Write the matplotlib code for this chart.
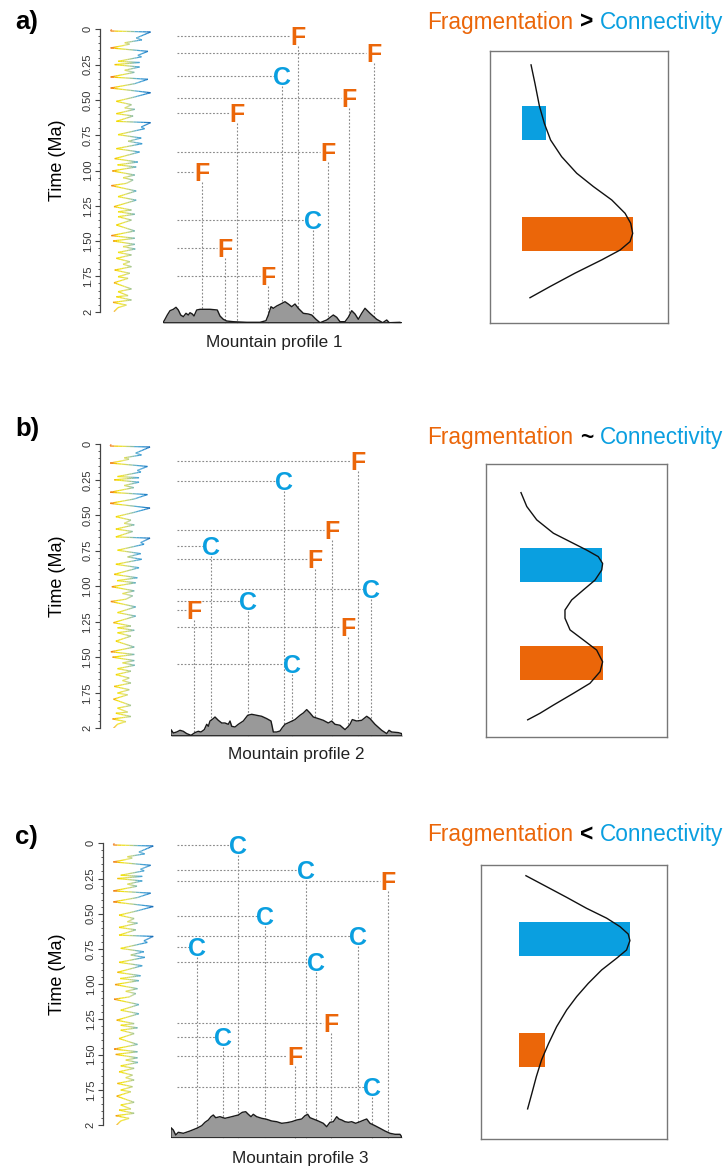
import numpy as np
import matplotlib
matplotlib.use("Agg")
import matplotlib.pyplot as plt
from matplotlib.collections import LineCollection
from matplotlib.colors import LinearSegmentedColormap, Normalize

plt.rcParams['font.family'] = ['Liberation Sans', 'DejaVu Sans']

W, H = 725, 1169
ORANGE = "#EB6609"
BLUE = "#0A9FE0"

# --- climate record (Ma, d18O-like index), same curve in every panel ---
clim_t = [0.0, 0.012, 0.019, 0.062, 0.075, 0.095, 0.105, 0.118, 0.132, 0.156,
          0.184, 0.195, 0.227, 0.235, 0.250, 0.267, 0.290, 0.305, 0.338, 0.354,
          0.385, 0.416, 0.449, 0.480, 0.510, 0.534, 0.557, 0.567, 0.597, 0.614,
          0.652, 0.661, 0.692, 0.704, 0.746, 0.770, 0.793, 0.810, 0.845, 0.869,
          0.916, 0.940, 0.960, 0.975, 1.003, 1.032, 1.051, 1.067, 1.091, 1.107,
          1.145, 1.185, 1.210, 1.256, 1.280, 1.292, 1.310, 1.327, 1.351, 1.386,
          1.428, 1.461, 1.480, 1.499, 1.523, 1.539, 1.556, 1.580, 1.598, 1.622,
          1.646, 1.664, 1.681, 1.705, 1.728, 1.752, 1.764, 1.795, 1.839, 1.858,
          1.886, 1.894, 1.917, 1.934, 1.953, 1.971, 2.0]
clim_v = [3.35, 3.31, 4.98, 4.38, 4.62, 3.90, 4.10, 3.76, 3.31, 4.87,
          4.45, 4.60, 3.62, 4.52, 3.48, 4.52, 3.90, 4.30, 3.31, 4.87,
          4.32, 3.31, 4.98, 4.30, 3.55, 4.18, 3.90, 4.32, 3.55, 4.25,
          3.55, 4.98, 4.59, 4.73, 3.62, 4.59, 4.04, 4.63, 3.55, 4.52,
          3.48, 4.45, 3.60, 4.38, 3.38, 4.32, 3.83, 4.25, 3.97, 3.34,
          4.38, 3.62, 4.38, 3.45, 4.18, 3.62, 4.32, 3.62, 4.18, 3.55,
          4.32, 3.34, 4.32, 3.41, 4.32, 3.83, 4.34, 3.62, 4.18, 3.55,
          4.11, 3.83, 4.18, 3.48, 4.11, 3.62, 4.04, 3.45, 4.18, 3.62,
          4.04, 3.55, 4.18, 3.41, 3.97, 3.62, 3.45]

# --- mountain profiles (distance, elevation) ---
prof1_x = [0, 2.3, 4.6, 7.3, 10.6, 13.3, 15.6, 18, 20.6, 23.3, 25.6, 27.3, 29.6, 31.3,
           34, 37.3, 47.3, 54.6, 57.3, 60.6, 64, 70.6, 84, 97.3, 103.3, 105.6, 108.3,
           110.6, 114, 118, 122.3, 125.6, 129, 132.3, 135.6, 140.6, 145.6, 149, 153.3,
           157.3, 164, 170.6, 174, 177.3, 182.3, 185.6, 189, 192.3, 195.6, 199, 202.3,
           207.3, 214, 220, 224, 226.6, 237.3, 239]
prof1_z = [0, 4, 8.3, 12.6, 14, 16, 13.3, 8.3, 6.6, 10, 8.3, 10.6, 9.3, 7.3,
           13.3, 14, 14, 13.3, 7.3, 4, 2.3, 1.6, 1, 1, 2.6, 8.3, 16.6,
           15, 17.3, 19.3, 21.6, 19.3, 16.6, 19.3, 15, 10, 9.3, 8.3, 4,
           0.6, 3.3, 8.3, 6, 1.6, 1.6, 6, 12.6, 9.3, 4, 10, 15,
           10, 4, 0.6, 3.3, 0.6, 1, 0]

prof2_x = [0, 0, 2.3, 5.7, 9, 12.3, 15.7, 20, 24, 27.3, 30, 33.3, 35.7, 37.3, 39,
           42.3, 44, 47.3, 50.7, 54, 57.3, 59, 60.7, 64, 67.3, 72.3, 76.7, 80.7,
           85.7, 90.7, 95.7, 100, 101.3, 102.3, 105.7, 109, 111.3, 114, 119, 124,
           129, 132.3, 135.7, 139, 142.3, 147.3, 152.3, 157.3, 160.7, 164, 169,
           174, 176.7, 179, 181.3, 185.7, 190.7, 195.7, 199, 204, 210.7, 215.7,
           218, 220.7, 227.3, 230.7, 231.3]
prof2_z = [0, 6.7, 3.3, 4.3, 6, 5, 2.7, 1, 3.7, 5, 4.3, 6.7, 12, 10, 15.3,
           17.7, 19.3, 16, 13.3, 13.3, 12, 15.3, 10, 9.3, 12, 15.3, 21, 22,
           21, 20, 17.7, 15.3, 9.3, 4.3, 4.3, 5.3, 8.7, 12, 14.3, 16.7,
           21, 23.3, 26.7, 23.3, 19.3, 17.7, 16, 13.3, 15.3, 12, 11,
           6.7, 9.3, 12, 16.7, 15.3, 16, 20, 17.7, 12, 6, 2.7,
           6, 4.3, 3.7, 2.7, 0]

prof3_x = [0, 0, 2.3, 4.7, 7.3, 12.3, 19, 25.7, 30.7, 34, 37.3, 40, 42.3, 44.7,
           49, 54, 60.7, 67.3, 71.3, 74.7, 77.3, 80, 82.3, 85.7, 90.7, 95.7,
           100.7, 105.7, 110.7, 115.7, 120.7, 125.7, 130.7, 134, 136.7, 139,
           142.3, 147.3, 152.3, 155.7, 159, 162.3, 165.7, 168, 170.7, 174, 177.3,
           180.7, 184.7, 189, 192.3, 195.7, 199, 204, 209, 214, 219, 224, 229, 231.3]
prof3_z = [0, 10, 7.7, 2.7, 5.4, 4.4, 6.7, 9.4, 12, 15.4, 17.7, 21, 22.7, 20,
           21, 19.4, 21, 22.7, 25.4, 26, 23.4, 21, 23.4, 21, 19.4, 18.4,
           16.7, 16, 14.4, 15, 16, 17.7, 18.7, 22, 23.4, 20,
           18.7, 16.7, 14.4, 11, 15.4, 16, 21, 18.7, 17.7, 16, 15.4,
           16, 14.4, 16, 17.4, 18.7, 14.4, 12, 9.4, 6.7, 4.4, 3.4, 3.4, 0]

# --- events: kind, distance along profile, time (Ma) ---
ev1_kind = ["F", "F", "C", "F", "F", "F", "F", "C", "F", "F"]
ev1_x = [135.3, 211.3, 119.3, 186.3, 74.3, 165.3, 39.3, 150.3, 62.3, 105.3]
ev1_t = [0.047, 0.17, 0.33, 0.49, 0.59, 0.87, 1.01, 1.35, 1.55, 1.75]

ev2_kind = ["F", "C", "F", "C", "F", "C", "C", "F", "F", "C"]
ev2_x = [186.7, 113.3, 161.3, 39.7, 144, 199.7, 76.7, 23.3, 177.3, 120.7]
ev2_t = [0.115, 0.256, 0.604, 0.714, 0.81, 1.017, 1.10, 1.167, 1.284, 1.547]

ev3_kind = ["C", "C", "F", "C", "C", "C", "C", "F", "C", "F", "C"]
ev3_x = [67.3, 135, 216.7, 94, 187.3, 26.3, 144.7, 160, 52.3, 124, 200.7]
ev3_t = [0.012, 0.189, 0.268, 0.516, 0.656, 0.738, 0.84, 1.278, 1.377, 1.508, 1.728]

# --- summary boxes: bar (centre, length) and density curve, relative units ---
bars1 = {"C": (0.264, 0.135), "F": (0.673, 0.626)}
bars2 = {"C": (0.370, 0.455), "F": (0.731, 0.460)}
bars3 = {"C": (0.268, 0.601), "F": (0.674, 0.145)}

dens1_x = [0.231, 0.253, 0.278, 0.306, 0.341, 0.403, 0.488, 0.582, 0.685, 0.760,
           0.792, 0.803, 0.788, 0.732, 0.629, 0.478, 0.338, 0.225]
dens1_y = [0.051, 0.119, 0.202, 0.266, 0.327, 0.388, 0.449, 0.498, 0.547, 0.596,
           0.633, 0.670, 0.700, 0.731, 0.767, 0.816, 0.865, 0.906]
dens2_x = [0.195, 0.227, 0.282, 0.374, 0.466, 0.558, 0.622, 0.646, 0.641, 0.604,
           0.540, 0.475, 0.438, 0.438, 0.466, 0.540, 0.613, 0.646, 0.632, 0.576,
           0.484, 0.374, 0.300, 0.232]
dens2_y = [0.104, 0.155, 0.204, 0.253, 0.284, 0.315, 0.339, 0.364, 0.388, 0.425,
           0.461, 0.498, 0.535, 0.565, 0.608, 0.645, 0.682, 0.725, 0.761, 0.804,
           0.841, 0.884, 0.914, 0.938]
dens3_x = [0.240, 0.351, 0.459, 0.566, 0.674, 0.746, 0.790, 0.799, 0.781, 0.728,
           0.647, 0.575, 0.513, 0.459, 0.405, 0.362, 0.324, 0.296, 0.272, 0.249]
dens3_y = [0.038, 0.078, 0.117, 0.157, 0.193, 0.224, 0.251, 0.275, 0.309, 0.339,
           0.382, 0.431, 0.479, 0.528, 0.589, 0.650, 0.710, 0.771, 0.832, 0.889]

titles = [">", "~", "<"]

# --- layout (pixels) ---
panels = [
    dict(label="a)", ly=22, t0=29.3, t2=311.7, spine=100, px0=162.7, px1=401.7, base=323.3,
         mtx=274, mty=342, ty=160, line0=14.3, title_y=22,
         box=(490, 51, 667.7, 323.3), barleft=0.18,
         prof=(prof1_x, prof1_z), ev=(ev1_kind, ev1_x, ev1_t), bars=bars1,
         dens=(dens1_x, dens1_y)),
    dict(label="b)", ly=429, t0=444.3, t2=728.3, spine=99.5, px0=171, px1=402.3, base=736.3,
         mtx=296, mty=755, ty=576, line0=5.7, title_y=437,
         box=(485.7, 464.3, 666.7, 736.7), barleft=0.19,
         prof=(prof2_x, prof2_z), ev=(ev2_kind, ev2_x, ev2_t), bars=bars2,
         dens=(dens2_x, dens2_y)),
    dict(label="c)", ly=837, t0=843.3, t2=1125, spine=102.7, px0=171, px1=402.3, base=1137.7,
         mtx=300, mty=1158, ty=974, line0=5.7, title_y=835,
         box=(481.3, 865.3, 667.3, 1139.3), barleft=0.20,
         prof=(prof3_x, prof3_z), ev=(ev3_kind, ev3_x, ev3_t), bars=bars3,
         dens=(dens3_x, dens3_y)),
]

fig = plt.figure(figsize=(W / 100, H / 100), dpi=100)


def px_axes(x0, y0, x1, y1):
    return fig.add_axes([x0 / W, 1 - y1 / H, (x1 - x0) / W, (y1 - y0) / H])


def ftext(x, y, s, **kw):
    return fig.text(x / W, 1 - y / H, s, **kw)


clim_cmap = LinearSegmentedColormap.from_list(
    "clim", [(0.0, "#e8101a"), (0.12, "#f39a10"), (0.24, "#f3e200"),
             (0.40, "#e2de55"), (0.52, "#a9c88a"), (0.66, "#5aaed0"),
             (0.82, "#2a92d2"), (1.0, "#1566b2")])
clim_norm = Normalize(3.2, 5.0)

dash = dict(color="#8a8a8a", lw=0.8, ls=(0, (1.6, 1.6)), clip_on=False)

for i, p in enumerate(panels):
    ppm = (p["t2"] - p["t0"]) / 2.0

    ftext(15, p["ly"], p["label"], fontsize=18.5, fontweight="bold", va="center", ha="left")
    ftext(57, p["ty"], "Time (Ma)", fontsize=13, rotation=90, va="center", ha="center")

    # climate curve
    axc = px_axes(p["spine"], p["t0"], p["spine"] + 55, p["t2"])
    axc.set_ylim(2, 0)
    axc.set_xlim(2.865, 5.167)
    t = np.asarray(clim_t)
    v = np.asarray(clim_v)
    segs, cols = [], []
    for k in range(len(t) - 1):
        n = 10
        tt = np.linspace(t[k], t[k + 1], n + 1)
        vv = np.linspace(v[k], v[k + 1], n + 1)
        for j in range(n):
            segs.append([(vv[j], tt[j]), (vv[j + 1], tt[j + 1])])
            cols.append(clim_cmap(clim_norm(0.5 * (vv[j] + vv[j + 1]))))
    axc.add_collection(LineCollection(segs, colors=cols, linewidths=0.9))
    for s in ["top", "right", "bottom"]:
        axc.spines[s].set_visible(False)
    axc.spines["left"].set_color("#444444")
    axc.spines["left"].set_linewidth(0.9)
    axc.set_facecolor("none")
    axc.set_xticks([])
    axc.set_yticks(np.arange(0, 2.01, 0.25))
    axc.set_yticks(np.arange(0, 2.01, 0.05), minor=True)
    axc.set_yticklabels(["0", "0.25", "0.50", "0.75", "1.00", "1.25", "1.50", "1.75", "2"],
                        rotation=90, va="center", fontsize=8, color="#333333")
    axc.tick_params(axis="y", which="major", length=3.5, width=0.8, color="#444444", pad=1.5)
    axc.tick_params(axis="y", which="minor", length=1.8, width=0.6, color="#444444")

    # event panel
    t_base = (p["base"] - p["t0"]) / ppm
    axe = px_axes(p["px0"], p["t0"], p["px1"], p["base"])
    axe.set_xlim(0, p["px1"] - p["px0"])
    axe.set_ylim(t_base, 0)
    axe.axis("off")
    kinds, exs, ets = p["ev"]
    for kind, ex, et in zip(kinds, exs, ets):
        axe.plot([p["line0"], ex - 8], [et, et], **dash)
        axe.plot([ex, ex], [et + 10 / ppm, t_base], **dash)
        axe.text(ex, et + 9 / ppm, kind, color=ORANGE if kind == "F" else BLUE,
                 fontsize=18, fontweight="bold", ha="center", va="baseline")

    # mountain profile on top
    axp = px_axes(p["px0"], p["base"] - 35, p["px1"], p["base"])
    axp.set_xlim(0, p["px1"] - p["px0"])
    axp.set_ylim(0, 35)
    axp.axis("off")
    px_, pz_ = p["prof"]
    axp.fill_between(px_, 0, pz_, color="#999999", lw=0)
    axp.plot(px_, pz_, color="#1a1a1a", lw=1.0)
    axp.plot([0, p["px1"] - p["px0"]], [0, 0], color="#1a1a1a", lw=1.2)
    ftext(p["mtx"], p["mty"], f"Mountain profile {i + 1}", fontsize=12.3,
          ha="center", va="center", color="#222222")

    # title
    ftext(573, p["title_y"], "Fragmentation", color=ORANGE, fontsize=16.3, ha="right", va="center")
    ftext(587, p["title_y"], titles[i], color="black", fontsize=16.3, fontweight="bold",
          ha="center", va="center")
    ftext(600, p["title_y"], "Connectivity", color=BLUE, fontsize=16.3, ha="left", va="center")

    # summary box
    bx0, by0, bx1, by1 = p["box"]
    axb = px_axes(bx0, by0, bx1, by1)
    axb.set_xlim(0, 1)
    axb.set_ylim(1, 0)
    axb.set_xticks([])
    axb.set_yticks([])
    for s in axb.spines.values():
        s.set_color("#777777")
        s.set_linewidth(1.0)
    for kind, (yc, ln) in p["bars"].items():
        axb.barh(yc, ln, left=p["barleft"], height=0.125,
                 color=ORANGE if kind == "F" else BLUE)
    dx, dy = p["dens"]
    axb.plot(dx, dy, color="#111111", lw=1.0)

fig.savefig("out.png", dpi=100)
